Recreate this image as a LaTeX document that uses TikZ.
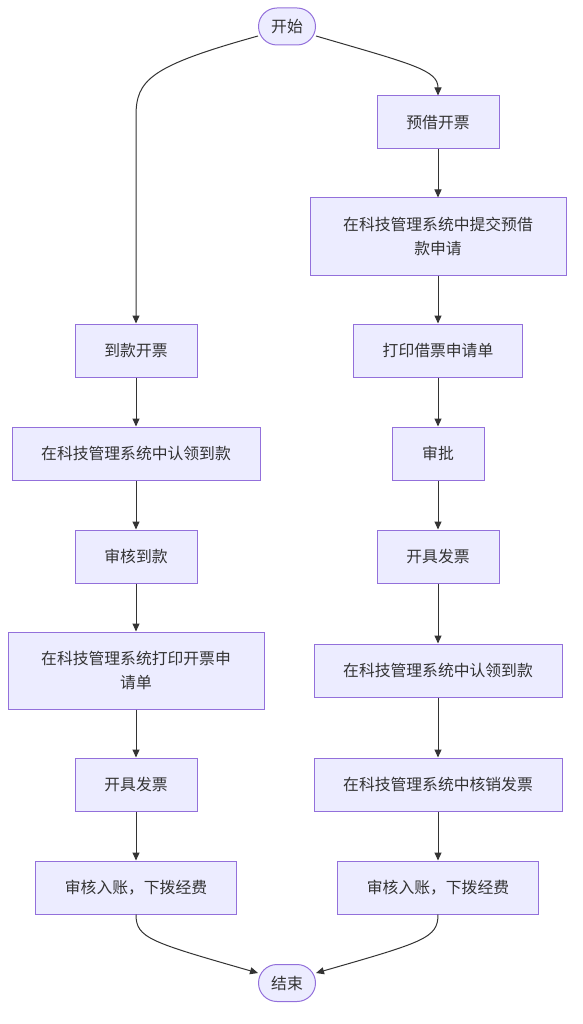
\documentclass[tikz,border=0pt]{standalone}
\usepackage{fontspec}
\setmainfont{Noto Sans CJK SC}
\usetikzlibrary{arrows.meta,shapes.misc}
\definecolor{boxfill}{HTML}{ECECFF}
\definecolor{boxline}{HTML}{9370DB}
\definecolor{ink}{HTML}{333333}
\begin{document}
\begin{tikzpicture}[x=1pt,y=-1pt,
  every node/.style={font=\fontsize{15.8}{24}\selectfont, text=ink},
  proc/.style={rectangle, fill=boxfill, draw=boxline, line width=1pt, inner sep=0pt, align=center},
  term/.style={rounded rectangle, fill=boxfill, draw=boxline, line width=1pt, inner sep=0pt, minimum width=57pt, minimum height=37pt},
  flow/.style={draw=ink, line width=1pt, -{Triangle[length=8pt,width=7pt]}}]
\useasboundingbox (0,0) rectangle (582,1024);

% terminals
\node[term] (start) at (287,26.5) {开始};
\node[term] (stop) at (287,983) {结束};

% right branch
\node[proc, minimum width=122pt, minimum height=53pt] (r1) at (438,122.5) {预借开票};
\node[proc, minimum width=256pt, minimum height=77pt] (r2) at (438,236.5) {在科技管理系统中提交预借\\款申请};
\node[proc, minimum width=169pt, minimum height=53pt] (r3) at (438,350.5) {打印借票申请单};
\node[proc, minimum width=92pt, minimum height=53pt] (r4) at (438,453.5) {审批};
\node[proc, minimum width=122pt, minimum height=53pt] (r5) at (438,556.5) {开具发票};
\node[proc, minimum width=248pt, minimum height=53pt] (r6) at (438,670.5) {在科技管理系统中认领到款};
\node[proc, minimum width=248pt, minimum height=53pt] (r7) at (438,784.5) {在科技管理系统中核销发票};
\node[proc, minimum width=201pt, minimum height=53pt] (r8) at (438,887.5) {审核入账，下拨经费};

% left branch
\node[proc, minimum width=122pt, minimum height=53pt] (l1) at (136,350.5) {到款开票};
\node[proc, minimum width=248pt, minimum height=53pt] (l2) at (136,453.5) {在科技管理系统中认领到款};
\node[proc, minimum width=122pt, minimum height=53pt] (l3) at (136,556.5) {审核到款};
\node[proc, minimum width=256pt, minimum height=77pt] (l4) at (136,670.5) {在科技管理系统打印开票申\\请单};
\node[proc, minimum width=122pt, minimum height=53pt] (l5) at (136,784.5) {开具发票};
\node[proc, minimum width=201pt, minimum height=53pt] (l6) at (136,887.5) {审核入账，下拨经费};

% curved connectors from start
\draw[flow] (start.west |- 0,36) .. controls (150,66) and (136,80) .. (136,116) -- (l1.north);
\draw[flow] (start.east |- 0,36) .. controls (412,64) and (438,70) .. (r1.north);

% straight connectors
\foreach \a/\b in {r1/r2,r2/r3,r3/r4,r4/r5,r5/r6,r6/r7,r7/r8,l1/l2,l2/l3,l3/l4,l4/l5,l5/l6}
  \draw[flow] (\a.south) -- (\b.north);

% curved connectors to end
\draw[flow] (l6.south) .. controls (136,938) and (150,942) .. (stop.west |- 0,973);
\draw[flow] (r8.south) .. controls (438,938) and (424,942) .. (stop.east |- 0,973);
\end{tikzpicture}
\end{document}
